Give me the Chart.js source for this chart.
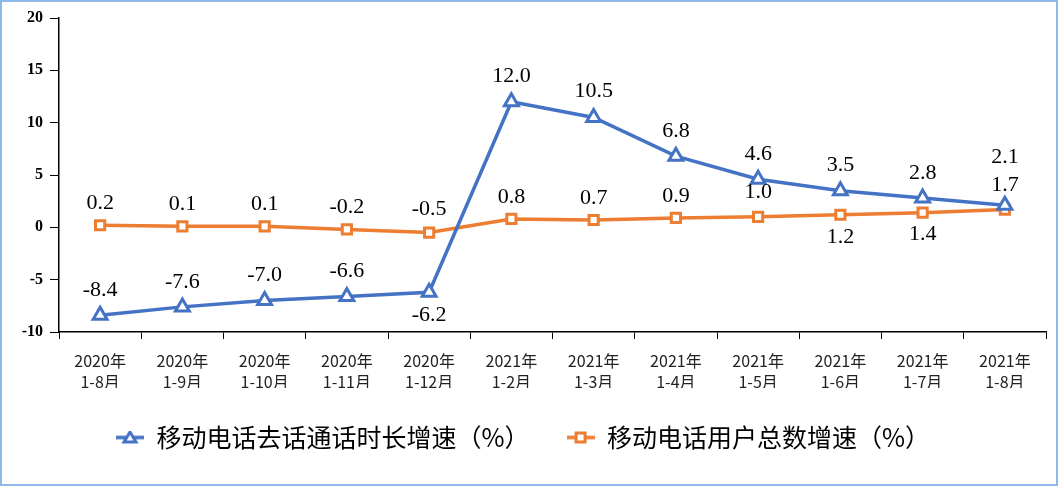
<!DOCTYPE html>
<html>
<head>
<meta charset="utf-8">
<script src="https://cdn.jsdelivr.net/npm/chart.js@4/dist/chart.umd.min.js"></script>
<style>
  html, body { margin: 0; padding: 0; background: #fff; }
  #wrap { width: 1058px; height: 486px; }
</style>
</head>
<body>
<div id="wrap"><canvas id="chart" width="1058" height="486"></canvas></div>
<script>
// --- Dữ liệu ---
const categories = [
    ["2020年", "1-8月"], ["2020年", "1-9月"], ["2020年", "1-10月"], ["2020年", "1-11月"],
    ["2020年", "1-12月"], ["2021年", "1-2月"], ["2021年", "1-3月"], ["2021年", "1-4月"],
    ["2021年", "1-5月"], ["2021年", "1-6月"], ["2021年", "1-7月"], ["2021年", "1-8月"]
];
const callDuration = [-8.4, -7.6, -7.0, -6.6, -6.2, 12.0, 10.5, 6.8, 4.6, 3.5, 2.8, 2.1];
const userGrowth = [0.2, 0.1, 0.1, -0.2, -0.5, 0.8, 0.7, 0.9, 1.0, 1.2, 1.4, 1.7];
const seriesNames = ["移动电话去话通话时长增速（%）", "移动电话用户总数增速（%）"];
const yMin = -10, yMax = 20, yStep = 5;

// --- Vị trí nhãn (px so với điểm) ---
const labelOffsets = [
    [-25, -25, -25, -25, 23, -26, -26, -25, -25, -25, -25, -48],
    [-22, -22, -22, -22, -23, -22, -22, -22, -25, 22, 22, -24]
];

const BLUE = "#4472C4", ORANGE = "#ED7D31";
const SERIF = '"Liberation Serif", "Times New Roman", serif';
const CJK = '"Noto Sans CJK SC", "Noto Sans", sans-serif';

// --- Biểu tượng chú thích ---
function legendIcon(color, style) {
    const c = document.createElement("canvas");
    c.width = 28; c.height = 14;
    const g = c.getContext("2d");
    g.strokeStyle = color; g.lineWidth = 3.5;
    g.beginPath(); g.moveTo(0, 7); g.lineTo(28, 7); g.stroke();
    g.fillStyle = "#fff"; g.lineWidth = 3;
    g.beginPath();
    if (style === "triangle") {
        g.moveTo(14, 1.5); g.lineTo(20, 11.5); g.lineTo(8, 11.5); g.closePath();
    } else {
        g.rect(9.5, 2.5, 9, 9);
    }
    g.fill(); g.stroke();
    return c;
}
const legendIcons = [legendIcon(BLUE, "triangle"), legendIcon(ORANGE, "rect")];

// --- Nhãn giá trị + viền ---
const valueLabels = {
    id: "valueLabels",
    afterDatasetsDraw(chart) {
        const ctx = chart.ctx;
        ctx.save();
        ctx.font = "22px " + SERIF;
        ctx.fillStyle = "#000";
        ctx.textAlign = "center";
        ctx.textBaseline = "middle";
        chart.data.datasets.forEach((ds, i) => {
            chart.getDatasetMeta(i).data.forEach((pt, j) => {
                ctx.fillText(ds.data[j].toFixed(1), pt.x, pt.y + labelOffsets[i][j]);
            });
        });
        ctx.restore();
    },
    afterDraw(chart) {
        const ctx = chart.ctx;
        ctx.save();
        ctx.strokeStyle = "#8DB9E8";
        ctx.lineWidth = 2;
        ctx.strokeRect(1, 1, chart.width - 2, chart.height - 2);
        ctx.restore();
    }
};

new Chart(document.getElementById("chart"), {
    type: "line",
    data: {
        labels: categories,
        datasets: [
            {
                label: seriesNames[0], data: callDuration,
                borderColor: BLUE, borderWidth: 3.5,
                pointStyle: "triangle", pointRadius: 8, pointBorderWidth: 3,
                pointBackgroundColor: "#fff", pointBorderColor: BLUE
            },
            {
                label: seriesNames[1], data: userGrowth,
                borderColor: ORANGE, borderWidth: 3.5,
                pointStyle: "rect", pointRadius: 6.5, pointBorderWidth: 3,
                pointBackgroundColor: "#fff", pointBorderColor: ORANGE
            }
        ]
    },
    options: {
        responsive: false,
        animation: false,
        layout: { padding: { top: 18, right: 12, left: 0, bottom: 26 } },
        scales: {
            x: {
                offset: true,
                grid: { offset: true, drawOnChartArea: false, tickLength: 7, color: "#000" },
                border: { color: "#000", width: 1.5 },
                ticks: {
                    maxRotation: 0, autoSkip: false, padding: 12, color: "#222",
                    font: { family: CJK, size: 16, lineHeight: 1.3 }
                },
                afterFit(scale) { scale.height = 56; }
            },
            y: {
                min: yMin, max: yMax,
                grid: { drawOnChartArea: false, tickLength: 9, color: "#000" },
                border: { color: "#000", width: 1.5 },
                ticks: {
                    stepSize: yStep, padding: 7, color: "#000",
                    font: { family: SERIF, size: 16, weight: "bold" }
                },
                afterFit(scale) { scale.width = 59; }
            }
        },
        plugins: {
            tooltip: { enabled: false },
            legend: {
                position: "bottom",
                labels: {
                    usePointStyle: true, pointStyleWidth: 28, padding: 37,
                    color: "#000", font: { family: CJK, size: 25 },
                    generateLabels(chart) {
                        const items = Chart.defaults.plugins.legend.labels.generateLabels(chart);
                        items.forEach((it, i) => { it.pointStyle = legendIcons[i]; });
                        return items;
                    }
                }
            }
        }
    },
    plugins: [valueLabels]
});
</script>
</body>
</html>
